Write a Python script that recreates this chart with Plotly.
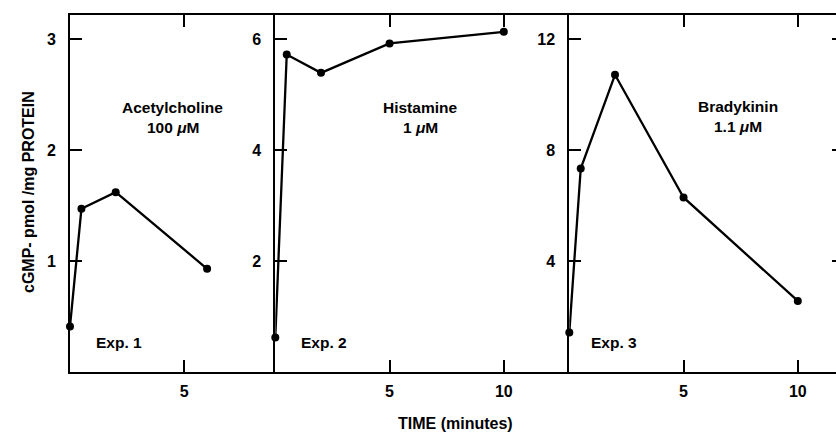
import plotly.graph_objects as go

# ---- data ----
time_1 = [0, 0.5, 2, 6]
acetylcholine = [0.41, 1.47, 1.62, 0.93]
time_2 = [0, 0.5, 2, 5, 10]
histamine = [0.62, 5.72, 5.39, 5.92, 6.13]
time_3 = [0, 0.5, 2, 5, 10]
bradykinin = [1.42, 7.33, 10.71, 6.29, 2.56]

xticks_1 = [5]
xticks_23 = [5, 10]
yticks_1 = [1, 2, 3]
yticks_2 = [2, 4, 6]
yticks_3 = [4, 8, 12]

agent_names = ["Acetylcholine", "Histamine", "Bradykinin"]
agent_doses = ["100 <i>μ</i>M", "1 <i>μ</i>M", "1.1 <i>μ</i>M"]
exp_labels = ["Exp. 1", "Exp. 2", "Exp. 3"]
y_title = "cGMP- pmol /mg PROTEIN"
x_title = "TIME (minutes)"

FONT = "Liberation Sans, Arial, Helvetica, sans-serif"
W = 836

fig = go.Figure()
series = [(time_1, acetylcholine, "x", "y"),
          (time_2, histamine, "x2", "y2"),
          (time_3, bradykinin, "x3", "y3")]
for xs, ys, xa, ya in series:
    fig.add_trace(go.Scatter(x=xs, y=ys, xaxis=xa, yaxis=ya, mode="lines+markers",
                             line=dict(color="black", width=2.3),
                             marker=dict(color="black", size=8),
                             cliponaxis=False, showlegend=False))

tick_font = dict(family=FONT, size=16, color="black", weight="bold")

def xax(domain, rng, ticks):
    return dict(domain=domain, range=rng, showline=True, linecolor="black", linewidth=2,
                mirror="ticks", ticks="inside", ticklen=12, tickwidth=2, tickcolor="black",
                tickvals=ticks, ticktext=[str(t) for t in ticks], showgrid=False, zeroline=False,
                tickfont=tick_font, ticklabelstandoff=4, fixedrange=True)

def yax(anchor, rng, ticks):
    return dict(anchor=anchor, domain=[0, 1], range=rng, showline=True, linecolor="black",
                linewidth=2, ticks="inside", ticklen=12, tickwidth=2, tickcolor="black",
                tickvals=ticks, ticktext=[str(t) for t in ticks], showgrid=False, zeroline=False,
                tickfont=tick_font, ticklabelstandoff=9, fixedrange=True)

px_per_min = 22.85
x1_rng = [0, (275.3 - 70) / px_per_min]
x2_rng = [0, (569.3 - 275.3) / px_per_min]
x3_rng = [0, (836 - 569.3) / px_per_min]

fig.update_layout(
    width=W, height=433, margin=dict(l=0, r=0, t=15, b=61),
    paper_bgcolor="white", plot_bgcolor="white",
    xaxis=dict(xax([70 / W, 275.3 / W], x1_rng, xticks_1), anchor="y"),
    xaxis2=dict(xax([275.3 / W, 569.3 / W], x2_rng, xticks_23), anchor="y2"),
    xaxis3=dict(xax([569.3 / W, 1.0], x3_rng, xticks_23), anchor="y3"),
    yaxis=yax("x", [0, 357 / 111], yticks_1),
    yaxis2=yax("x2", [0, 357 / 55.5], yticks_2),
    yaxis3=yax("x3", [0, 357 / 27.75], yticks_3),
)

# right-edge mirrored ticks of panel 3 (border lies just outside the picture)
for v in yticks_3:
    fig.add_shape(type="line", xref="x3 domain", yref="y3", x0=1 - 4 / 266.7, x1=1,
                  y0=v, y1=v, line=dict(color="black", width=2))

ann_font = dict(family=FONT, size=15.5, color="black", weight="bold")
name_pos = [(4.5, 2.38, 2.20, "x", "y"), (6.35, 4.76, 4.40, "x2", "y2"),
            (7.37, 9.55, 8.83, "x3", "y3")]
exp_pos = [(2.13, 0.27), (2.14, 0.54), (1.95, 1.08)]
for i, (cx, yn, yd, xa, ya) in enumerate(name_pos):
    fig.add_annotation(x=cx, y=yn, xref=xa, yref=ya, text=agent_names[i],
                       showarrow=False, font=ann_font)
    fig.add_annotation(x=cx, y=yd, xref=xa, yref=ya, text=agent_doses[i],
                       showarrow=False, font=ann_font)
    fig.add_annotation(x=exp_pos[i][0], y=exp_pos[i][1], xref=xa, yref=ya,
                       text=exp_labels[i], showarrow=False, font=ann_font)

fig.add_annotation(x=28 / W, y=(372 - 192) / 357, xref="paper", yref="paper",
                   xanchor="center", yanchor="middle",
                   text=y_title, textangle=-90, showarrow=False,
                   font=dict(family=FONT, size=16, color="black", weight="bold"))
fig.add_annotation(x=456 / W, y=-(423 - 372) / 357, xref="paper", yref="paper",
                   xanchor="center", yanchor="middle",
                   text=x_title, showarrow=False,
                   font=dict(family=FONT, size=16, color="black", weight="bold"))

fig.write_html("out.html", config={"displayModeBar": False},
               post_script="document.body.style.margin='0';document.body.style.overflow='hidden';")
